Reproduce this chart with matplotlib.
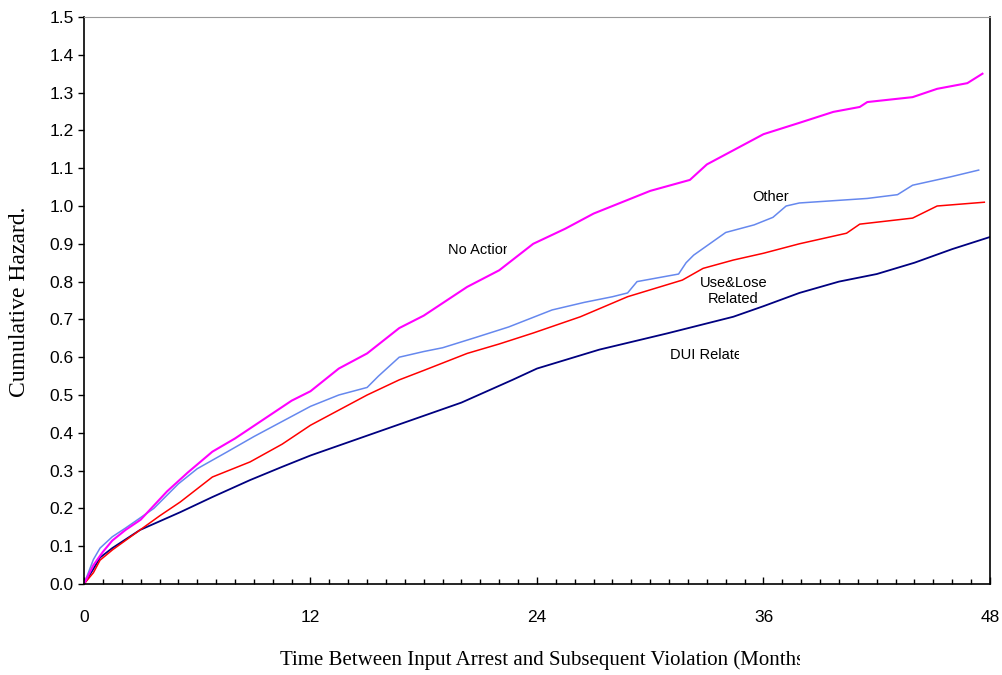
import matplotlib
matplotlib.use("Agg")
import matplotlib.pyplot as plt
from matplotlib.transforms import Bbox

## cumulative hazard curves (months, hazard)

no_action_m = [0, 0.5, 1, 1.5, 2.2, 3, 4.4, 5.5, 6.8, 8, 9.5, 11, 12, 13.5, 15, 16.7, 18,
               20.3, 22, 23.8, 25.5, 27, 28.5, 30, 32.1, 33, 34.5, 36, 37.9, 39.7, 41.1,
               41.5, 43.9, 45.2, 46.8, 47.6]
no_action_v = [0, 0.05, 0.085, 0.115, 0.143, 0.17, 0.245, 0.295, 0.35, 0.385, 0.435, 0.485,
               0.51, 0.57, 0.61, 0.677, 0.71, 0.786, 0.83, 0.90, 0.94, 0.98, 1.01, 1.04,
               1.069, 1.11, 1.15, 1.19, 1.22, 1.249, 1.262, 1.275, 1.288, 1.31, 1.325, 1.35]

other_m = [0, 0.5, 0.85, 1.5, 2.2, 3.7, 5, 6, 7.6, 9, 10.5, 12, 13.5, 15, 15.6, 16.7, 18,
           19, 20.8, 22.5, 24.8, 26.5, 28, 28.8, 29.3, 31.5, 31.9, 32.3, 34, 35.5, 36.5,
           37.2, 37.9, 41.5, 43.1, 43.9, 45.9, 47.4]
other_v = [0, 0.065, 0.095, 0.125, 0.148, 0.2, 0.265, 0.305, 0.35, 0.39, 0.43, 0.47, 0.5,
           0.52, 0.55, 0.6, 0.615, 0.625, 0.653, 0.68, 0.725, 0.745, 0.76, 0.77, 0.80, 0.82,
           0.85, 0.87, 0.93, 0.95, 0.97, 1.0, 1.008, 1.02, 1.03, 1.055, 1.077, 1.095]

uselose_m = [0, 0.5, 0.85, 1.5, 2.97, 4, 5.1, 6.8, 8.8, 10.5, 12, 13.5, 15, 16.7, 18, 20.3,
             22, 23.8, 26.3, 28.8, 31.7, 32.8, 34.4, 36, 37.9, 40.4, 41.1, 43.9, 45.2, 47.7]
uselose_v = [0, 0.03, 0.063, 0.09, 0.143, 0.18, 0.217, 0.283, 0.323, 0.37, 0.42, 0.46, 0.5,
             0.54, 0.565, 0.61, 0.635, 0.664, 0.707, 0.76, 0.804, 0.835, 0.857, 0.875, 0.90,
             0.928, 0.952, 0.968, 1.0, 1.01]

dui_m = [0, 0.5, 0.85, 1.5, 2.97, 5.1, 6.8, 8.8, 10.5, 12, 14, 16, 18, 20, 22.7, 24, 27.3,
         30.9, 34.4, 36, 37.9, 40, 42, 44, 46, 48]
dui_v = [0, 0.04, 0.07, 0.095, 0.143, 0.19, 0.23, 0.275, 0.31, 0.34, 0.375, 0.41, 0.445,
         0.48, 0.54, 0.57, 0.62, 0.663, 0.707, 0.735, 0.77, 0.80, 0.82, 0.85, 0.886, 0.918]

x_ticks = [0, 12, 24, 36, 48]
y_ticks = [i / 10 for i in range(16)]

W, H, DPI = 1003, 675, 100
fig = plt.figure(figsize=(W / DPI, H / DPI), dpi=DPI)
ax = fig.add_axes([84 / W, 1 - 584 / H, 906 / W, 567 / H])

ax.plot(dui_m, dui_v, color="#000080", lw=1.3)
ax.plot(uselose_m, uselose_v, color="#FF0000", lw=1.1)
ax.plot(other_m, other_v, color="#6688EE", lw=1.1)
ax.plot(no_action_m, no_action_v, color="#FF00FF", lw=1.5)

ax.set_xlim(0, 48)
ax.set_ylim(0, 1.5)

sans = "Liberation Sans"
serif = "Liberation Serif"

ax.set_xticks(x_ticks)
ax.set_xticks(range(49), minor=True)
ax.set_xticklabels([str(t) for t in x_ticks], fontsize=12.5, family=sans)
ax.tick_params(axis="x", which="major", direction="in", length=5, width=1, pad=19)
ax.tick_params(axis="x", which="minor", direction="in", length=3.5, width=1)
ax.set_yticks(y_ticks)
ax.set_yticklabels(["%.1f" % t for t in y_ticks], fontsize=12.5, family=sans)
ax.tick_params(axis="y", direction="out", length=4.5, width=1, pad=3)

ax.spines["top"].set_color("#999999")
for s in ["left", "bottom", "right"]:
    ax.spines[s].set_color("black")
    ax.spines[s].set_linewidth(1.2)

def clip_to(t, x0, x1):
    # the original text boxes cut their labels short, mimic it
    t.set_clip_box(Bbox.from_extents(x0, 0, x1, H))
    t.set_clip_on(True)

t = ax.text(19.28, 0.884, "No Action", fontsize=10.5, family=sans, va="center")
clip_to(t, 440, 507)
ax.text(35.4, 1.024, "Other", fontsize=10.5, family=sans, va="center")
ax.text(34.4, 0.775, "Use&Lose\nRelated", fontsize=10.5, family=sans, va="center",
        ha="center", linespacing=1.2)
t = ax.text(31.05, 0.606, "DUI Related", fontsize=10.5, family=sans, va="center")
clip_to(t, 660, 739)

t = fig.text(280 / W, 1 - 660 / H, "Time Between Input Arrest and Subsequent Violation (Months)",
             fontsize=15, family=serif, va="center", ha="left")
clip_to(t, 270, 800)
fig.text(20 / W, 1 - 302 / H, "Cumulative Hazard.", fontsize=17, family=serif,
         rotation=90, va="center", ha="center")

fig.savefig("out.png", dpi=DPI)
